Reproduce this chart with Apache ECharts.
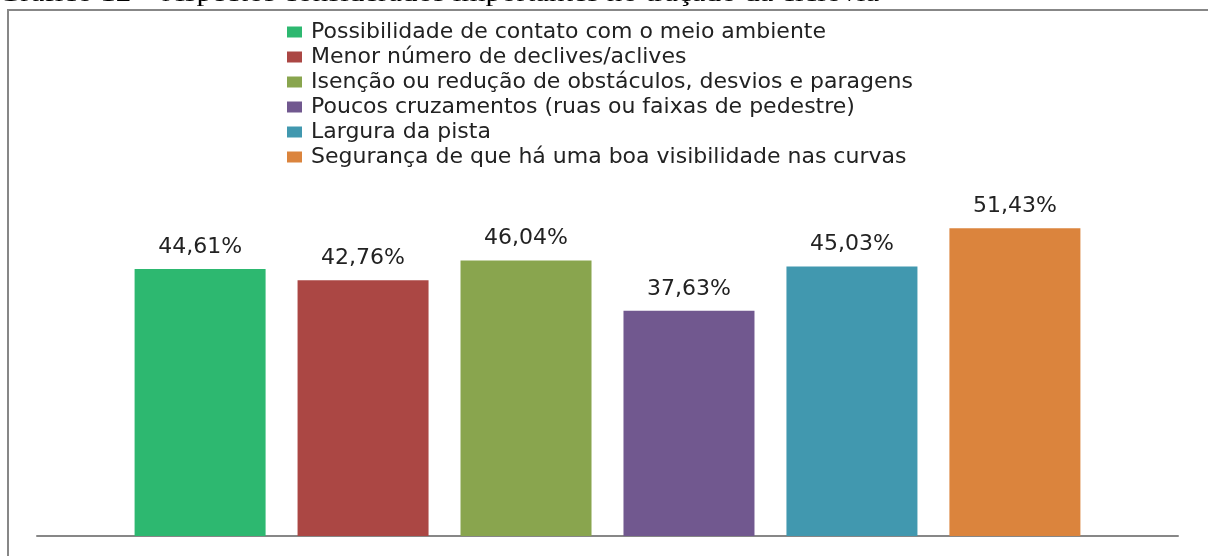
<!DOCTYPE html>
<html>
<head>
<meta charset="utf-8">
<script src="https://cdn.jsdelivr.net/npm/echarts@6/dist/echarts.min.js"></script>
<style>
  html, body { margin: 0; padding: 0; background: #fff; }
  #chart { width: 1208px; height: 556px; }
</style>
</head>
<body>
<div id="chart"></div>
<script>
// Aspectos considerados importantes no traçado da ciclovia
const caption = 'Gráfico 12 – Aspectos considerados importantes no traçado da ciclovia';
const categories = [
  'Possibilidade de contato com o meio ambiente',
  'Menor número de declives/aclives',
  'Isenção ou redução de obstáculos, desvios e paragens',
  'Poucos cruzamentos (ruas ou faixas de pedestre)',
  'Largura da pista',
  'Segurança de que há uma boa visibilidade nas curvas'
];
const values = [44.61, 42.76, 46.04, 37.63, 45.03, 51.43];
const colors = ['#2DB870', '#AB4744', '#89A54E', '#71588F', '#4198AF', '#DB843D'];

const chart = echarts.init(document.getElementById('chart'), null, { renderer: 'canvas' });

const fmt = v => v.toFixed(2).replace('.', ',') + '%';

const series = categories.map((name, i) => ({
  name: name,
  type: 'bar',
  data: [values[i]],
  barWidth: 131,
  barGap: '24.4%',
  itemStyle: { color: colors[i] },
  label: {
    show: true,
    position: 'top',
    distance: 11,
    formatter: p => fmt(p.value),
    color: '#222',
    fontFamily: 'DejaVu Sans',
    fontSize: 22
  }
}));

chart.setOption({
  animation: false,
  backgroundColor: '#ffffff',
  color: colors,
  graphic: [
    {
      type: 'text',
      x: -2,
      y: 0,
      scaleX: 1.29,
      style: {
        text: caption,
        x: 0,
        y: 7,
        verticalAlign: 'bottom',
        font: '24px "Liberation Serif"',
        fill: '#000'
      }
    },
    {
      type: 'rect',
      shape: { x: 8, y: 10, width: 1300, height: 700 },
      style: { fill: 'none', stroke: '#878787', lineWidth: 2 },
      silent: true
    }
  ],
  legend: {
    orient: 'vertical',
    left: 287,
    top: 21,
    padding: 0,
    itemGap: 3,
    itemWidth: 15,
    itemHeight: 11,
    icon: 'rect',
    textStyle: {
      fontFamily: 'DejaVu Sans',
      fontSize: 22,
      lineHeight: 22,
      color: '#222',
      padding: [0, 0, 0, 4]
    },
    data: categories
  },
  grid: { left: 37, right: 30, top: 177, bottom: 20 },
  xAxis: {
    type: 'category',
    data: [''],
    axisLine: { show: true, lineStyle: { color: '#878787', width: 2 } },
    axisTick: { show: false },
    axisLabel: { show: false }
  },
  yAxis: {
    type: 'value',
    min: 0,
    max: 60,
    interval: 10,
    show: false,
    splitLine: { show: false }
  },
  series: series
});
</script>
</body>
</html>
